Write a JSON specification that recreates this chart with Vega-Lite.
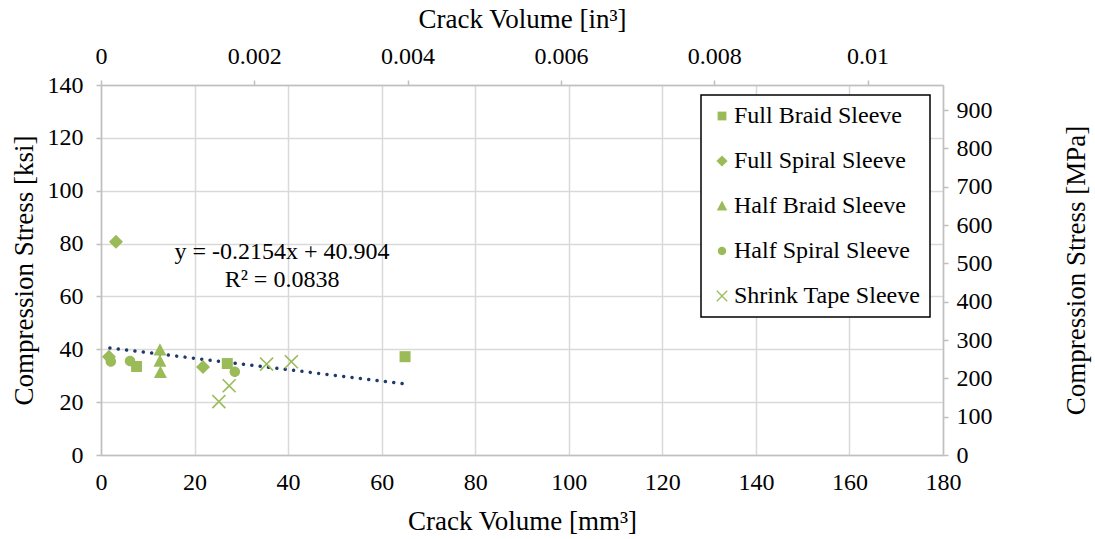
{
  "$schema": "https://vega.github.io/schema/vega-lite/v6.json",
  "width": 842,
  "height": 370,
  "autosize": {"type": "none"},
  "padding": {"left": 101, "top": 85, "right": 152, "bottom": 84},
  "background": "white",
  "config": {
    "font": "Liberation Serif",
    "view": {"stroke": null},
    "axis": {
      "labelFont": "Liberation Serif",
      "titleFont": "Liberation Serif",
      "labelFontSize": 24,
      "titleFontSize": 27,
      "labelColor": "black",
      "titleColor": "black",
      "titleFontWeight": "normal",
      "domainColor": "#BFBFBF",
      "domainWidth": 1.5,
      "tickColor": "#BFBFBF",
      "tickWidth": 1.5,
      "gridColor": "#D9D9D9",
      "gridWidth": 1.5,
      "labelFlush": false,
      "labelOverlap": false
    },
    "legend": {
      "orient": "none",
      "legendX": 600,
      "legendY": 10,
      "strokeColor": "black",
      "strokeWidth": 1.5,
      "fillColor": "white",
      "padding": 9,
      "rowPadding": 21,
      "labelFont": "Liberation Serif",
      "labelFontSize": 24,
      "labelColor": "black",
      "labelOffset": 0,
      "labelLimit": 400,
      "symbolSize": 64,
      "symbolFillColor": "#9BBB59",
      "symbolStrokeWidth": 0,
      "symbolOpacity": 1
    }
  },
  "datasets": {
    "points": [
      {"series": "Full Braid Sleeve", "mm3": 7.6, "ksi": 33.5},
      {"series": "Full Braid Sleeve", "mm3": 27.0, "ksi": 34.6},
      {"series": "Full Braid Sleeve", "mm3": 65.0, "ksi": 37.2},
      {"series": "Full Spiral Sleeve", "mm3": 3.2, "ksi": 80.7},
      {"series": "Full Spiral Sleeve", "mm3": 1.7, "ksi": 37.2},
      {"series": "Full Spiral Sleeve", "mm3": 21.8, "ksi": 33.3},
      {"series": "Half Braid Sleeve", "mm3": 12.6, "ksi": 39.7},
      {"series": "Half Braid Sleeve", "mm3": 12.6, "ksi": 35.5},
      {"series": "Half Braid Sleeve", "mm3": 12.7, "ksi": 31.2},
      {"series": "Half Spiral Sleeve", "mm3": 2.1, "ksi": 35.4},
      {"series": "Half Spiral Sleeve", "mm3": 6.2, "ksi": 35.6},
      {"series": "Half Spiral Sleeve", "mm3": 28.6, "ksi": 31.5},
      {"series": "Shrink Tape Sleeve", "mm3": 25.2, "ksi": 20.2},
      {"series": "Shrink Tape Sleeve", "mm3": 27.4, "ksi": 26.2},
      {"series": "Shrink Tape Sleeve", "mm3": 35.4, "ksi": 34.4},
      {"series": "Shrink Tape Sleeve", "mm3": 40.7, "ksi": 35.3}
    ],
    "trend": [
      {"mm3": 1.9, "ksi": 40.49},
      {"mm3": 65.0, "ksi": 26.90}
    ],
    "secondary": [
      {"in3": 0, "mpa": 0},
      {"in3": 0.0109843, "mpa": 965.27}
    ]
  },
  "layer": [
    {
      "data": {"name": "trend"},
      "mark": {"type": "line", "color": "#1F3A6B", "strokeWidth": 3.5, "strokeCap": "round", "strokeDash": [0.01, 8.4]},
      "encoding": {
        "x": {
          "field": "mm3", "type": "quantitative",
          "scale": {"domain": [0, 180], "nice": false, "zero": false},
          "axis": {
            "orient": "bottom",
            "values": [0, 20, 40, 60, 80, 100, 120, 140, 160, 180],
            "grid": true, "ticks": false, "labelPadding": 15,
            "title": "Crack Volume [mm³]", "titlePadding": 14
          }
        },
        "y": {
          "field": "ksi", "type": "quantitative",
          "scale": {"domain": [0, 140], "nice": false, "zero": false},
          "axis": {
            "orient": "left",
            "values": [0, 20, 40, 60, 80, 100, 120, 140],
            "grid": true, "ticks": true, "tickSize": 5, "labelPadding": 13,
            "title": "Compression Stress [ksi]", "titlePadding": 9
          }
        }
      }
    },
    {
      "data": {"name": "points"},
      "mark": {"type": "point", "filled": true, "opacity": 1, "strokeWidth": 0, "size": 100},
      "encoding": {
        "x": {"field": "mm3", "type": "quantitative", "scale": {"domain": [0, 180], "nice": false, "zero": false}, "axis": null},
        "y": {"field": "ksi", "type": "quantitative", "scale": {"domain": [0, 140], "nice": false, "zero": false}, "axis": null},
        "shape": {
          "field": "series", "type": "nominal",
          "scale": {
            "domain": ["Full Braid Sleeve", "Full Spiral Sleeve", "Half Braid Sleeve", "Half Spiral Sleeve", "Shrink Tape Sleeve"],
            "range": [
              "M-1.1,-1.1H1.1V1.1H-1.1Z",
              "M-1.4,0L0,-1.4L1.4,0L0,1.4Z",
              "M0,-1.35L1.3,1.1L-1.3,1.1Z",
              "M-1.05,0A1.05,1.05 0 1,0 1.05,0A1.05,1.05 0 1,0 -1.05,0Z",
              "M1.186,-1.413L1.413,-1.186L0.226,0L1.413,1.186L1.186,1.413L0,0.226L-1.186,1.413L-1.413,1.186L-0.226,0L-1.413,-1.186L-1.186,-1.413L0,-0.226Z"
            ]
          },
          "legend": {"title": null}
        },
        "color": {"value": "#9BBB59"}
      }
    },
    {
      "data": {"values": [{}]},
      "mark": {"type": "text", "font": "Liberation Serif", "fontSize": 24, "color": "black", "align": "center", "baseline": "middle"},
      "encoding": {
        "x": {"datum": 38.7, "type": "quantitative", "scale": {"domain": [0, 180], "nice": false, "zero": false}, "axis": null},
        "y": {"datum": 76.8, "type": "quantitative", "scale": {"domain": [0, 140], "nice": false, "zero": false}, "axis": null},
        "text": {"value": "y = -0.2154x + 40.904"}
      }
    },
    {
      "data": {"values": [{}]},
      "mark": {"type": "text", "font": "Liberation Serif", "fontSize": 24, "color": "black", "align": "center", "baseline": "middle"},
      "encoding": {
        "x": {"datum": 38.7, "type": "quantitative", "scale": {"domain": [0, 180], "nice": false, "zero": false}, "axis": null},
        "y": {"datum": 66.2, "type": "quantitative", "scale": {"domain": [0, 140], "nice": false, "zero": false}, "axis": null},
        "text": {"value": "R² = 0.0838"}
      }
    },
    {
      "data": {"name": "secondary"},
      "mark": {"type": "point", "opacity": 0},
      "encoding": {
        "x": {
          "field": "in3", "type": "quantitative",
          "scale": {"domain": [0, 0.0109843], "nice": false, "zero": false},
          "axis": {
            "orient": "top",
            "values": [0, 0.002, 0.004, 0.006, 0.008, 0.01],
            "labelExpr": "format(datum.value, '.3~f')",
            "grid": false, "ticks": true, "tickSize": 5, "labelPadding": 12,
            "title": "Crack Volume [in³]", "titlePadding": 11
          }
        },
        "y": {
          "field": "mpa", "type": "quantitative",
          "scale": {"domain": [0, 965.27], "nice": false, "zero": false},
          "axis": {
            "orient": "right",
            "values": [0, 100, 200, 300, 400, 500, 600, 700, 800, 900],
            "grid": false, "ticks": true, "tickSize": 5, "labelPadding": 8,
            "title": "Compression Stress [MPa]", "titleAngle": 270, "titlePadding": 98
          }
        }
      }
    }
  ],
  "resolve": {"scale": {"x": "independent", "y": "independent"}}
}
